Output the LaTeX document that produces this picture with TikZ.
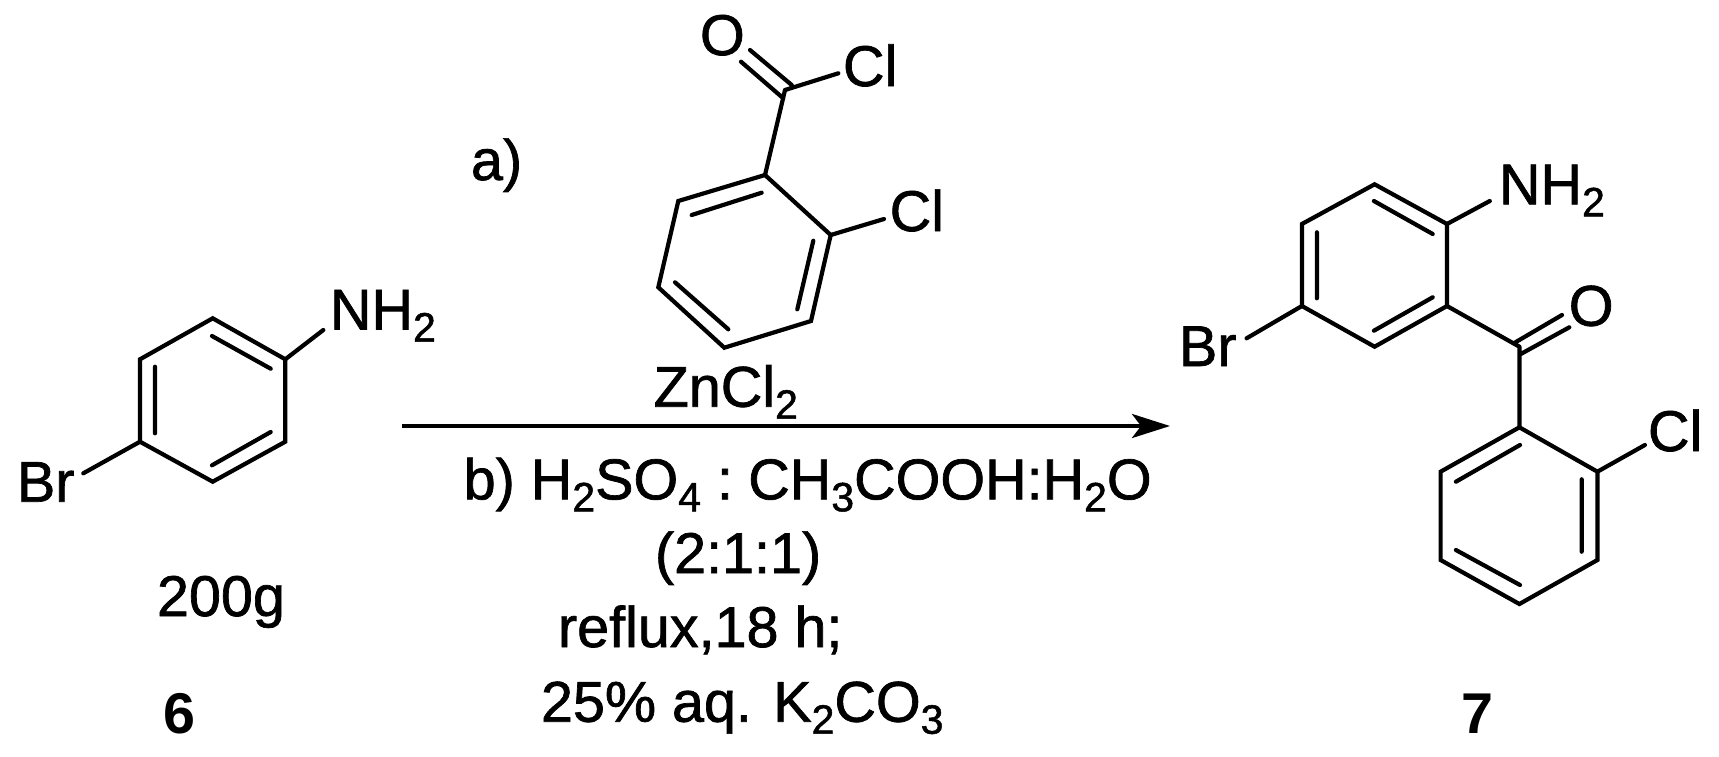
\documentclass[tikz,border=0pt]{standalone}
\usepackage{fontspec}
\setmainfont{Liberation Sans}
\newfontfamily\heavyfont[FakeBold=1.2]{Liberation Sans}
\usetikzlibrary{arrows.meta}
\newcommand{\sbs}[1]{\raisebox{-12pt}{\fontsize{41}{41}\selectfont #1}}
\tikzset{
  lbl/.style={anchor=base west,inner sep=0pt,outer sep=0pt,xshift=-3pt,font=\heavyfont\fontsize{57.5}{57.5}\selectfont},
  cpd/.style={anchor=base west,inner sep=0pt,outer sep=0pt,font=\fontsize{57.5}{57.5}\selectfont\bfseries},
  bond/.style={line width=4.2pt,line cap=round,line join=miter,black},
  arr/.style={line width=3.8pt,black,-{Stealth[length=38pt,width=24pt,inset=9pt]}}
}
\begin{document}
\begin{tikzpicture}[x=1pt,y=-1pt]
\useasboundingbox (0,0) rectangle (1719,756);
% compound 6
\foreach \n/\x/\y in {a1/212.7/318.3,a2/285.3/359.3,a3/285.3/441.7,a4/212.7/481.7,a5/140/441.7,a6/140/359.3,
 ai1/212/336,ai2/270.7/368.7,ai3/155/366.7,ai4/155/433.3,ai5/212/465.3,ai6/270.7/432,
 an/323.3/330,ab/83.3/473.3}
 {\coordinate (\n) at (\x,\y);}
\draw[bond] (a1)--(a2)--(a3)--(a4)--(a5)--(a6)--cycle;
\draw[bond] (ai1)--(ai2) (ai3)--(ai4) (ai5)--(ai6) (a2)--(an) (a5)--(ab);
\node[lbl] (nh2a) at (333,329.5) {NH\sbs{2}};
\node[lbl] (bra) at (20,501.7) {Br};
\node[lbl] (g200) at (160,616) {200g};
\node[cpd] (c6) at (163,733) {6};
% reagent
\foreach \n/\x/\y in {r1/765/175,r2/830.7/235,r3/811/321,r4/724.3/347.7,r5/658.3/287.3,r6/678.3/201,
 ri1/761.7/192.7,ri2/691.7/215,ri3/813.3/240.7,ri4/797.3/309.3,ri5/675/282.3,ri6/728.3/329.3,
 rc/785/90,ro1/750/50,ro1b/791.7/85,ro2/741/61.7,ro2b/783.3/98.3,rcl/838.3/73.3,rcl2/884/219}
 {\coordinate (\n) at (\x,\y);}
\draw[bond] (r1)--(r2)--(r3)--(r4)--(r5)--(r6)--cycle;
\draw[bond] (ri1)--(ri2) (ri3)--(ri4) (ri5)--(ri6) (r1)--(rc) (rc)--(rcl) (r2)--(rcl2) (ro1)--(ro1b) (ro2)--(ro2b);
\node[lbl] (oa) at (703,55) {O};
\node[lbl] (cla) at (846,86) {Cl};
\node[lbl] (clb) at (892.7,231) {Cl};
\node[lbl] (alab) at (474,180) {a)};
\node[lbl] (zn) at (656.7,406.7) {ZnCl\sbs{2}};
% arrow
\coordinate (as) at (402,426);
\coordinate (ae) at (1170,426);
\draw[arr] (as)--(ae);
\node[lbl] (bl) at (466.7,499.3) {b) H\sbs{2}SO\sbs{4} :\hspace{-6pt} CH\sbs{3}COOH:H\sbs{2}O};
\node[lbl] (ratio) at (658,573) {(2:1:1)};
\node[lbl] (reflux) at (561,647) {reflux,18 h;};
\node[lbl] (kco) at (544,721.7) {25\% aq. K\sbs{2}CO\sbs{3}};
% compound 7
\foreach \n/\x/\y in {p1/1374.6/184.3,p2/1447/224,p3/1447/306,p4/1374.6/346.7,p5/1301.9/306,p6/1301.9/224,
 pi1/1373.9/201,pi2/1432.7/234,pi3/1316.9/232.3,pi4/1316.9/298.3,pi5/1373.9/330.7,pi6/1432.7/297.3,
 pn/1489.8/201,pb/1246.6/338.3,pc/1519.4/346.7,po1/1514.7/342.7,po1b/1562/315,po2/1520.8/354,po2b/1569.3/327.3,
 q1/1519.4/427.3,q2/1597.4/471.7,q3/1597.4/560,q4/1519.4/604,q5/1440.6/560,q6/1440.6/471.7,
 qi1/1520/445,qi2/1455.9/481.7,qi3/1581.7/479.3,qi4/1581.7/551.7,qi5/1455.9/550,qi6/1520/585,qcl/1644.9/445}
 {\coordinate (\n) at (\x,\y);}
\draw[bond] (p1)--(p2)--(p3)--(p4)--(p5)--(p6)--cycle;
\draw[bond] (pi1)--(pi2) (pi3)--(pi4) (pi5)--(pi6) (p2)--(pn) (p5)--(pb) (p3)--(pc) (pc)--(q1) (po1)--(po1b) (po2)--(po2b);
\draw[bond] (q1)--(q2)--(q3)--(q4)--(q5)--(q6)--cycle;
\draw[bond] (qi1)--(qi2) (qi3)--(qi4) (qi5)--(qi6) (q2)--(qcl);
\node[lbl] (nh2b) at (1502,204.3) {NH\sbs{2}};
\node[lbl] (brb) at (1182,366) {Br};
\node[lbl] (ob) at (1571.8,325.7) {O};
\node[lbl] (clc) at (1651,451) {Cl};
\node[cpd] (c7) at (1461,733) {7};
\end{tikzpicture}
\end{document}
